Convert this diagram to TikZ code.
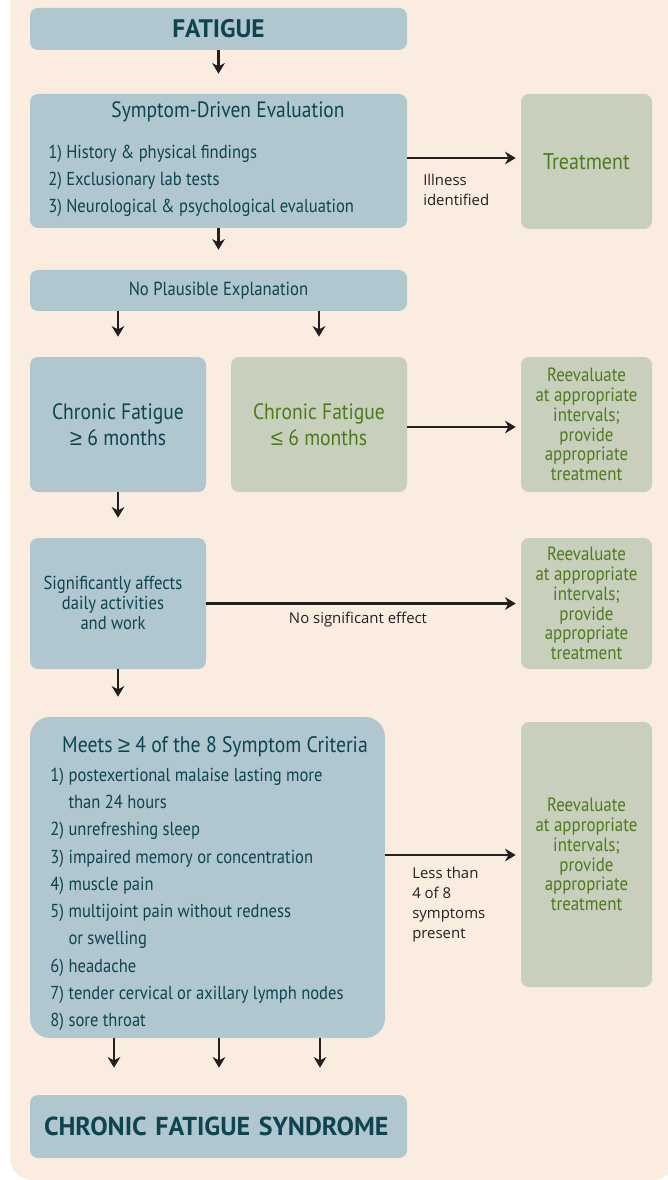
\documentclass[tikz,border=0pt]{standalone}
\usepackage{fontspec}
\setmainfont{PT Sans}
\newfontfamily\condfont{PT Sans}[FakeStretch=0.88]
\newfontfamily\labelfont{Open Sans}
\newfontfamily\symfont{Liberation Sans}
\newcommand\geqsym{{\symfont ≥}}
\newcommand\leqsym{{\symfont ≤}}
\usetikzlibrary{arrows.meta}
\newcommand\pxu{0.75pt}
\definecolor{bgbeige}{HTML}{FAEDE0}
\definecolor{boxblue}{HTML}{B0C7CF}
\definecolor{boxgreen}{HTML}{C8CFBC}
\definecolor{txtteal}{HTML}{0D4450}
\definecolor{txtgreen}{HTML}{4E7A1E}
\definecolor{linegray}{HTML}{231F20}
\tikzset{
  box/.style={rounded corners=6pt, inner sep=0pt, align=center, font=\condfont\fontsize{16.7}{19.5}\selectfont},
  bluebox/.style={box, fill=boxblue, text=txtteal},
  greenbox/.style={box, fill=boxgreen, text=txtgreen},
  smallbox/.style={font=\condfont\fontsize{14.4}{14.85}\selectfont},
  flow/.style={draw=linegray, line width=1.6pt, -{Stealth[length=8pt,width=9.5pt,inset=2.5pt]}},
  down/.style={flow, shorten >=20*\pxu},
  across/.style={flow, shorten >=5*\pxu},
  lbl/.style={text=linegray, inner sep=0pt, align=left, font=\labelfont\fontsize{11.2}{15}\selectfont},
  inbox/.style={text=txtteal, inner sep=0pt, font=\condfont\fontsize{14.1}{20.45}\selectfont}
}
\begin{document}
\begin{tikzpicture}[x=0.75pt,y=-0.75pt]
	\useasboundingbox (0,0) rectangle (667,1180);
	\fill[bgbeige, rounded corners=22*\pxu] (10,-40) rectangle (675,1180);

	% left column
	\node[bluebox, minimum width=377*\pxu, minimum height=42*\pxu, font=\bfseries\fontsize{19}{20}\selectfont] (fatigue) at (218.5,29) {FATIGUE};
	\node[bluebox, minimum width=377*\pxu, minimum height=134*\pxu] (eval) at (218.5,161) {};
	\node[inbox, font=\condfont\fontsize{16.6}{18}\selectfont] (evaltitle) at (228,112) {Symptom-Driven Evaluation};
	\node[inbox, anchor=west, align=left] (evalitems) at (48,181) {1)\ History \& physical findings\\2)\ Exclusionary lab tests\\3)\ Neurological \& psychological evaluation};
	\node[bluebox, minimum width=377*\pxu, minimum height=41*\pxu, font=\condfont\fontsize{14.2}{15}\selectfont] (noplaus) at (218.5,290.5) {No Plausible Explanation};
	\node[bluebox, minimum width=176*\pxu, minimum height=135*\pxu] (cfgeq) at (118,424.5) {Chronic Fatigue\\\geqsym\ 6 months};
	\node[greenbox, minimum width=176*\pxu, minimum height=135*\pxu] (cfleq) at (319,424.5) {Chronic Fatigue\\\leqsym\ 6 months};
	\node[bluebox, minimum width=176*\pxu, minimum height=131*\pxu] (signif) at (118,603.5) {};
	\node[inbox, align=center, font=\condfont\fontsize{14.1}{14.8}\selectfont] (signiftext) at (113,603) {Significantly affects\\daily activities\\and work};
	\node[bluebox, rounded corners=15pt, minimum width=355*\pxu, minimum height=321*\pxu] (meets) at (207.5,877.5) {};
	\node[inbox, font=\condfont\fontsize{16.8}{18}\selectfont] (meetstitle) at (215,747) {Meets \geqsym\ 4 of the 8 Symptom Criteria};
	\node[inbox, anchor=north west] (meetsitems) at (50,762) {\begin{tabular}{@{}l@{\hspace{3.5pt}}l@{}}
		1) & postexertional malaise lasting more\\
		   & than 24 hours\\
		2) & unrefreshing sleep\\
		3) & impaired memory or concentration\\
		4) & muscle pain\\
		5) & multijoint pain without redness\\
		   & or swelling\\
		6) & headache\\
		7) & tender cervical or axillary lymph nodes\\
		8) & sore throat
	\end{tabular}};
	\node[bluebox, minimum width=377*\pxu, minimum height=63*\pxu, text width=349*\pxu, inner xsep=14*\pxu, align=left, font=\bfseries\fontsize{19.5}{20}\selectfont] (cfs) at (218.5,1126.5) {CHRONIC FATIGUE SYNDROME};

	% right column
	\node[greenbox, minimum width=131*\pxu, minimum height=135*\pxu, font=\condfont\fontsize{17}{18}\selectfont] (treat) at (586.5,161.5) {Treatment};
	\node[greenbox, smallbox, minimum width=131*\pxu, minimum height=135*\pxu] (reeval1) at (586.5,424.5) {Reevaluate\\at appropriate\\intervals;\\provide\\appropriate\\treatment};
	\node[greenbox, smallbox, minimum width=131*\pxu, minimum height=131*\pxu] (reeval2) at (586.5,603.5) {Reevaluate\\at appropriate\\intervals;\\provide\\appropriate\\treatment};
	\node[greenbox, smallbox, minimum width=131*\pxu, minimum height=265*\pxu] (reeval3) at (586.5,854.5) {Reevaluate\\at appropriate\\intervals;\\provide\\appropriate\\treatment};

	% connectors
	\draw[down] (fatigue.south) -- (eval.north);
	\draw[down] (eval.south) -- (noplaus.north);
	\draw[down] (noplaus.south -| cfgeq.north) -- (cfgeq.north);
	\draw[down] (noplaus.south -| cfleq.north) -- (cfleq.north);
	\draw[down] (cfgeq.south) -- (signif.north);
	\draw[down] (signif.south) -- (meets.north -| signif.south);
	\foreach \xx in {114,219,320}
		\draw[flow, shorten >=27*\pxu] (meets.south -| \xx,0) -- (cfs.north -| \xx,0);
	\draw[across] (eval.east |- 0,158) -- (treat.west |- 0,158);
	\draw[across] (cfleq.east |- 0,427) -- (reeval1.west |- 0,427);
	\draw[across] (signif.east) -- (reeval2.west);
	\draw[across] (meets.east |- 0,855) -- (reeval3.west |- 0,855);

	% connector labels
	\node[lbl, anchor=north west] (illlbl) at (423,174) {Illness\\identified};
	\node[lbl] (noeffect) at (358,620) {No significant effect};
	\node[lbl, anchor=north west] (lesslbl) at (412,867) {Less than\\4 of 8\\symptoms\\present};
\end{tikzpicture}
\end{document}
